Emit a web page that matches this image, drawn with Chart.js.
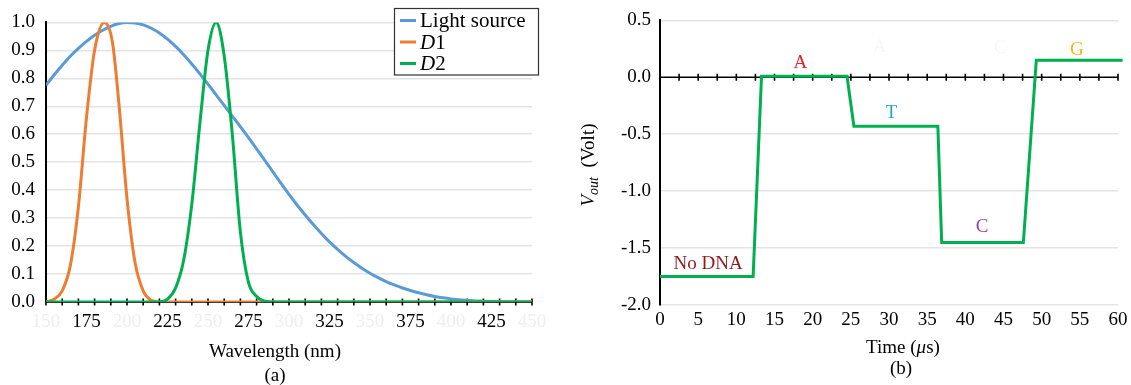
<!DOCTYPE html>
<html>
<head>
<meta charset="utf-8">
<script src="https://cdn.jsdelivr.net/npm/chart.js@4.4.1/dist/chart.umd.min.js"></script>
<style>
  html, body { margin: 0; padding: 0; background: #fff; overflow: hidden; }
  #wrapA { position: absolute; left: 0; top: 0; width: 560px; height: 388px; }
  #wrapB { position: absolute; left: 560px; top: 0; width: 571px; height: 388px; }
</style>
</head>
<body>
<div id="wrapA"><canvas id="spectrumChart" width="560" height="388"></canvas></div>
<div id="wrapB"><canvas id="voltChart" width="571" height="388"></canvas></div>
<script>
// (a) spectra
const seriesNames = ['Light source', 'D1', 'D2'];
const seriesColors = ['#5b9bd5', '#ed7d31', '#00b050'];

const lightX = [150, 155, 160, 165, 170, 175, 180, 185, 190, 195, 200, 205, 210, 215, 220, 225, 230, 235, 240, 245,
  250, 255, 260, 265, 270, 275, 280, 285, 290, 295, 300, 305, 310, 315, 320, 325, 330, 335, 340, 345, 350,
  355, 360, 365, 370, 375, 380, 385, 390, 395, 400, 405, 410, 415, 420, 425, 430, 435, 440, 450];
const lightY = [0.775, 0.812, 0.847, 0.879, 0.907, 0.932, 0.954, 0.972, 0.986, 0.996, 1.0, 0.998, 0.991, 0.979, 0.962, 0.94, 0.914, 0.884, 0.851, 0.816,
  0.779, 0.741, 0.703, 0.665, 0.627, 0.588, 0.548, 0.507, 0.466, 0.425, 0.385, 0.347, 0.311, 0.277, 0.245, 0.215, 0.188, 0.163, 0.141, 0.121, 0.103,
  0.087, 0.073, 0.061, 0.05, 0.041, 0.033, 0.026, 0.02, 0.015, 0.011, 0.008, 0.006, 0.004, 0.003, 0.002, 0.001, 0.0005, 0, 0];

const d1X = [150, 155, 160, 165, 170, 175, 180, 186, 191, 195, 200, 205, 210, 215, 220, 450];
const d1Y = [0, 0.01, 0.04, 0.13, 0.34, 0.66, 0.9, 1.0, 0.93, 0.71, 0.37, 0.14, 0.04, 0.006, 0, 0];

const d2X = [150, 220, 225, 230, 235, 240, 245, 250, 255, 260, 265, 270, 275, 280, 285, 290, 450];
const d2Y = [0, 0, 0.01, 0.05, 0.15, 0.35, 0.64, 0.9, 1.0, 0.88, 0.6, 0.25, 0.07, 0.02, 0.003, 0, 0];

// (b) output voltage steps
const timeUs = [0, 12.2, 13.3, 24.5, 25.4, 36.4, 36.9, 47.6, 49.3, 60.6];
const voltOut = [-1.75, -1.75, 0.01, 0.01, -0.43, -0.43, -1.45, -1.45, 0.15, 0.15];

const noteText = ['No DNA', 'A', 'T', 'C', 'G', 'A', 'C'];
const noteX = [6.3, 18.4, 30.3, 42.2, 54.6, 28.8, 44.6];
const noteY = [-1.64, 0.128, -0.314, -1.315, 0.243, 0.27, 0.26];
const noteColor = ['#8e1b1b', '#e8232b', '#22a3e3', '#a03ea6', '#f2b90f', '#f7f7f7', '#f7f7f7'];

const SERIF = '"Liberation Serif", "Times New Roman", serif';
Chart.defaults.font.family = SERIF;
Chart.defaults.font.size = 19;
Chart.defaults.color = '#000';

function toPoints(xs, ys) {
  return xs.map((x, i) => ({ x: x, y: ys[i] }));
}

// draw text made of runs (italic / subscript) centred on x,y
function drawRich(ctx, segs, x, y, size, align) {
  const fonts = segs.map(s => (s.italic ? 'italic ' : '') + Math.round(size * (s.sub ? 0.72 : 1)) + 'px ' + SERIF);
  let total = 0;
  const widths = segs.map((s, i) => {
    ctx.font = fonts[i];
    const w = ctx.measureText(s.text).width;
    total += w;
    return w;
  });
  let cx = align === 'left' ? x : x - total / 2;
  ctx.textAlign = 'left';
  ctx.textBaseline = 'middle';
  segs.forEach((s, i) => {
    ctx.font = fonts[i];
    ctx.fillText(s.text, cx, y + (s.sub ? size * 0.3 : 0));
    cx += widths[i];
  });
}

// axis line through y = 0 with tick marks crossing it
const zeroAxis = {
  id: 'zeroAxis',
  beforeDatasetsDraw(chart, args, opts) {
    const { ctx, chartArea: a, scales: { x, y } } = chart;
    const py = y.getPixelForValue(0);
    ctx.save();
    ctx.strokeStyle = '#000';
    ctx.lineWidth = 1.6;
    ctx.beginPath();
    ctx.moveTo(a.left, py);
    ctx.lineTo(a.right, py);
    for (let v = x.min; v <= x.max + 1e-6; v += opts.step) {
      const px = x.getPixelForValue(v);
      ctx.moveTo(px, py - 3.5);
      ctx.lineTo(px, py + 3.5);
    }
    ctx.stroke();
    ctx.restore();
  }
};

const captions = {
  id: 'captions',
  afterDraw(chart, args, opts) {
    const ctx = chart.ctx;
    ctx.save();
    ctx.fillStyle = '#000';
    opts.items.forEach(it => {
      ctx.save();
      ctx.translate(it.x, it.y);
      if (it.rotate) ctx.rotate(it.rotate);
      drawRich(ctx, it.segs, 0, 0, 19);
      ctx.restore();
    });
    ctx.restore();
  }
};

const boxLegend = {
  id: 'boxLegend',
  afterDraw(chart, args, opts) {
    const { ctx, chartArea: a } = chart;
    const left = a.right - opts.width + opts.overhang;
    const top = opts.top;
    const h = chart.data.datasets.length * opts.rowHeight + 2;
    ctx.save();
    ctx.fillStyle = '#fff';
    ctx.fillRect(left, top, opts.width, h);
    ctx.strokeStyle = '#333';
    ctx.lineWidth = 1.2;
    ctx.strokeRect(left + 0.5, top + 0.5, opts.width, h);
    chart.data.datasets.forEach((ds, i) => {
      const cy = top + 12.5 + i * opts.rowHeight;
      ctx.strokeStyle = ds.borderColor;
      ctx.lineWidth = 3;
      ctx.beginPath();
      ctx.moveTo(left + 6, cy);
      ctx.lineTo(left + 22, cy);
      ctx.stroke();
      ctx.fillStyle = '#000';
      const m = /^([A-Z])(\d)$/.exec(ds.label);
      const segs = m ? [{ text: m[1], italic: true }, { text: m[2] }] : [{ text: ds.label }];
      drawRich(ctx, segs, left + 26, cy + 1, 20.5, 'left');
    });
    ctx.restore();
  }
};

const stepNotes = {
  id: 'stepNotes',
  afterDatasetsDraw(chart) {
    const { ctx, scales: { x, y } } = chart;
    ctx.save();
    ctx.font = '19px ' + SERIF;
    ctx.textAlign = 'center';
    ctx.textBaseline = 'middle';
    noteText.forEach((t, i) => {
      ctx.fillStyle = noteColor[i];
      ctx.fillText(t, x.getPixelForValue(noteX[i]), y.getPixelForValue(noteY[i]));
    });
    ctx.restore();
  }
};

new Chart(document.getElementById('spectrumChart'), {
  type: 'line',
  data: {
    datasets: [
      { label: seriesNames[0], data: toPoints(lightX, lightY), borderColor: seriesColors[0], order: 3 },
      { label: seriesNames[1], data: toPoints(d1X, d1Y), borderColor: seriesColors[1], order: 2 },
      { label: seriesNames[2], data: toPoints(d2X, d2Y), borderColor: seriesColors[2], order: 1 }
    ]
  },
  options: {
    responsive: false,
    animation: false,
    elements: {
      point: { radius: 0 },
      line: { borderWidth: 3, cubicInterpolationMode: 'monotone' }
    },
    layout: { padding: { top: 13, right: 28, left: 0, bottom: 0 } },
    plugins: {
      legend: { display: false },
      tooltip: { enabled: false },
      zeroAxis: { step: 10 },
      boxLegend: { width: 144, overhang: 6, top: 8, rowHeight: 21.5 },
      captions: {
        items: [
          { x: 275, y: 352, segs: [{ text: 'Wavelength (nm)' }] },
          { x: 275, y: 376, segs: [{ text: '(a)' }] }
        ]
      }
    },
    scales: {
      x: {
        type: 'linear', min: 150, max: 450,
        afterFit: s => { s.height = 86; },
        grid: { display: false },
        border: { display: false },
        ticks: {
          stepSize: 5, autoSkip: false, maxRotation: 0, padding: 1,
          callback: v => (v % 25 === 0 ? String(v) : ''),
          color: c => (c.tick && c.tick.value % 50 === 0 ? '#eeeeee' : '#000')
        }
      },
      y: {
        min: 0, max: 1,
        afterFit: s => { s.width = 46; },
        ticks: { stepSize: 0.1, padding: 11, callback: v => v.toFixed(1) },
        grid: { color: '#e4e4e4', lineWidth: 1.5, drawTicks: false },
        border: { color: '#000', width: 2 }
      }
    }
  },
  plugins: [zeroAxis, boxLegend, captions]
});

new Chart(document.getElementById('voltChart'), {
  type: 'line',
  data: {
    datasets: [{
      label: 'Vout',
      data: toPoints(timeUs, voltOut),
      borderColor: '#00b050',
      borderWidth: 3,
      pointRadius: 0,
      tension: 0,
      clip: false
    }]
  },
  options: {
    responsive: false,
    animation: false,
    layout: { padding: { top: 14, right: 13, left: 0, bottom: 0 } },
    plugins: {
      legend: { display: false },
      tooltip: { enabled: false },
      zeroAxis: { step: 2.5 },
      captions: {
        items: [
          { x: 343, y: 348, segs: [{ text: 'Time (' }, { text: 'μ', italic: true }, { text: 's)' }] },
          { x: 341, y: 369, segs: [{ text: '(b)' }] },
          { x: 29, y: 165, rotate: -Math.PI / 2, segs: [{ text: 'V', italic: true }, { text: 'out', italic: true, sub: true }, { text: '  (Volt)' }] }
        ]
      }
    },
    scales: {
      x: {
        type: 'linear', min: 0, max: 60,
        afterFit: s => { s.height = 83; },
        grid: { display: false },
        border: { display: false },
        ticks: {
          stepSize: 2.5, autoSkip: false, maxRotation: 0, padding: -4,
          callback: v => (v % 5 === 0 ? String(v) : '')
        }
      },
      y: {
        min: -2, max: 0.5,
        afterFit: s => { s.width = 100; },
        ticks: { stepSize: 0.5, padding: 9, callback: v => v.toFixed(1) },
        grid: {
          color: c => (c.tick && c.tick.value === 0 ? 'rgba(0,0,0,0)' : '#e4e4e4'),
          lineWidth: 1.5, drawTicks: false
        },
        border: { color: '#000', width: 2 }
      }
    }
  },
  plugins: [zeroAxis, stepNotes, captions]
});
</script>
</body>
</html>
